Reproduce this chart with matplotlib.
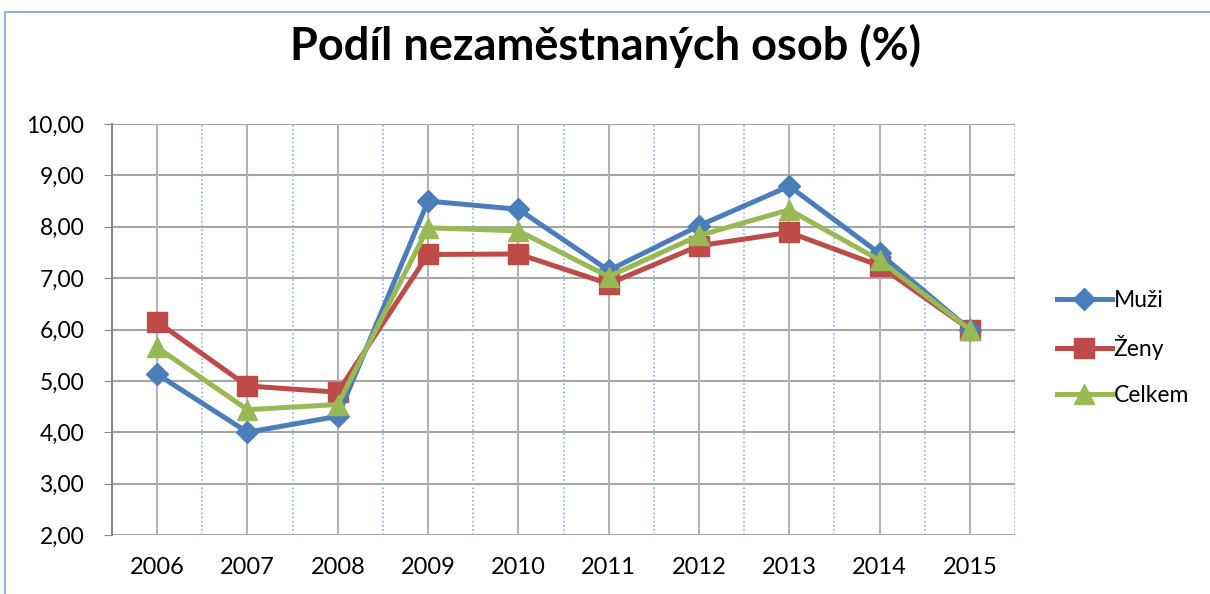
import numpy as np
import matplotlib.pyplot as plt
from matplotlib.patches import Rectangle

years = ["2006", "2007", "2008", "2009", "2010", "2011", "2012", "2013", "2014", "2015"]
muzi = [5.13, 4.00, 4.31, 8.50, 8.34, 7.15, 8.02, 8.79, 7.48, 6.00]
zeny = [6.15, 4.90, 4.78, 7.46, 7.47, 6.89, 7.63, 7.89, 7.24, 6.00]
celkem = [5.65, 4.44, 4.54, 7.98, 7.92, 7.03, 7.83, 8.33, 7.35, 6.00]

plt.rcParams['font.family'] = ['Lato', 'DejaVu Sans']

fig = plt.figure(figsize=(12.1, 5.94), dpi=100)
ax = fig.add_axes([112 / 1210, 1 - 535 / 594, 903 / 1210, 411 / 594])

# chart outer border (cropped at right/bottom)
fig.patches.append(Rectangle((5 / 1210, -0.1), 1.2, 1 - 12 / 594 + 0.1,
                             transform=fig.transFigure, fill=False,
                             edgecolor="#7ba3d6", linewidth=1.2))

x = np.arange(len(years))
ax.plot(x, muzi, "-D", color="#4a7ebb", lw=3.6, markersize=11, label="Muži", zorder=5)
ax.plot(x, zeny, "-s", color="#be4b48", lw=3.6, markersize=14, label="Ženy", zorder=4)
ax.plot(x, celkem, "-^", color="#98b954", lw=3.6, markersize=14, label="Celkem", zorder=6)

ax.set_xlim(-0.5, 9.5)
ax.set_ylim(2, 10)
ax.set_xticks(x)
ax.set_xticklabels(years, fontsize=17)
ax.set_yticks(np.arange(2, 11, 1))
ax.set_yticklabels([f"{v:.2f}".replace(".", ",") for v in range(2, 11)], fontsize=16.5)
ax.tick_params(axis="x", length=0, pad=16)
ax.tick_params(axis="y", length=6, color="#888888", pad=14)

# grid: solid gray at values/categories, dotted blue between categories
for v in range(2, 11):
    ax.axhline(v, color="#a6a6a6", lw=1.5, zorder=1)
for xi in x:
    ax.axvline(xi, color="#b3b3b3", lw=1.5, zorder=1)
for b in np.arange(0.5, 9.5, 1.0):
    ax.axvline(b, color="#8fb0e6", lw=1.2, ls=(0, (1, 1.5)), zorder=1)
ax.axvline(9.5, color="#8fb0e6", lw=1.2, ls=(0, (1, 1.5)), zorder=1)

for s in ["top", "right", "bottom"]:
    ax.spines[s].set_visible(False)
ax.spines["left"].set_color("#888888")
ax.spines["left"].set_linewidth(1.5)

fig.text(0.5, 1 - 46 / 594, "Podíl nezaměstnaných osob (%)", ha="center", va="center",
         fontsize=32.5, fontweight="bold")

fig.legend(loc="center left", bbox_to_anchor=(1036 / 1210, 1 - 348 / 594), frameon=False,
           fontsize=16.5, handlelength=2.4, handletextpad=0.1, labelspacing=1.05)

fig.savefig("out.png", dpi=100)
